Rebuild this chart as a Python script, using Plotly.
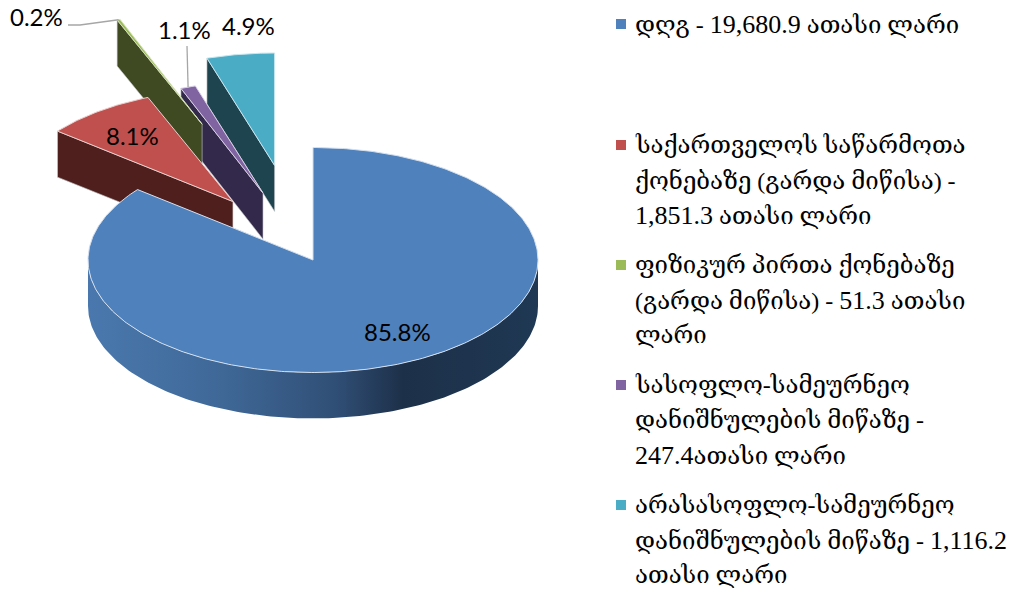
import re
import numpy as np
import plotly.graph_objects as go

# --- data ---
values = [19680.9, 1851.3, 51.3, 247.4, 1116.2]
legend_lines = [
    ["დღგ - 19,680.9 ათასი ლარი"],
    ["საქართველოს საწარმოთა", "ქონებაზე (გარდა მიწისა) -", "1,851.3 ათასი ლარი"],
    ["ფიზიკურ პირთა ქონებაზე", "(გარდა მიწისა) - 51.3 ათასი", "ლარი"],
    ["სასოფლო-სამეურნეო", "დანიშნულების მიწაზე -", "247.4ათასი ლარი"],
    ["არასასოფლო-სამეურნეო", "დანიშნულების მიწაზე - 1,116.2", "ათასი ლარი"],
]

# --- style ---
top_colors = ["#4f81bd", "#c0504d", "#9bbb59", "#8064a2", "#4bacc6"]
wall_colors = [None, "#4f1f1d", "#3f4a22", "#33294a", "#1e4450"]
edge_colors = ["#d5e0ee", "#e8d0cf", "#d5e2b8", "#d8cfe4", "#c8e6ee"]
explode_x = [0, 0.595, 1.327, 0.667, 1.12]
explode_y = [0, 0.648, 1.30, 0.63, 0.85]
draw_order = [4, 3, 2, 1]
CX, CY, RX, RY, DEPTH = 313, 260, 225, 112.5, 46
W, H = 1024, 593
LABEL_FONT = "Lato, Open Sans, sans-serif"
LEGEND_FONT = "Liberation Serif, DejaVu Serif, serif"
LEGEND_SIZE = 24
DIGIT_SIZE = 26
label_pos = [(397, 331), (132, 135), (36, 16), (184, 29), (248, 25)]
legend_y = [[24], [145, 181, 215], [265, 300, 335], [385, 420, 455], [505, 540, 575]]

total = sum(values)
fractions = [v / total for v in values]
edges = np.cumsum([0] + fractions) * 2 * np.pi


def ell(theta, ox=0.0, oy=0.0):
    return CX + ox + RX * np.sin(theta), CY + oy - RY * np.cos(theta)


fig = go.Figure()


def poly(xs, ys, fill, line="rgba(0,0,0,0)", width=0, **kw):
    fig.add_trace(go.Scatter(x=list(xs), y=list(ys), mode="lines", fill="toself",
                             fillcolor=fill, line=dict(color=line, width=width),
                             hoverinfo="skip", showlegend=False, **kw))


# exploded slices, back to front
for i in draw_order:
    a0, a1 = edges[i], edges[i + 1]
    mid = (a0 + a1) / 2
    ox = np.sin(mid) * RX * explode_x[i]
    oy = -np.cos(mid) * RY * explode_y[i]
    ax, ay = CX + ox, CY + oy
    sx, sy = ell(a0, ox, oy)
    poly([sx, ax, ax, sx, sx], [sy, ay, ay + DEPTH, sy + DEPTH, sy], wall_colors[i], "#c9ccd0", 0.6)
    t = np.linspace(a0, a1, 40)
    px, py = ell(t, ox, oy)
    poly(np.r_[ax, px, ax], np.r_[ay, py, ay], top_colors[i], edge_colors[i], 1)

# main slice: rim with gradient, then top
t = np.linspace(np.pi / 2, 3 * np.pi / 2, 160)
rx, ry = ell(t)
fig.add_trace(go.Scatter(
    x=np.r_[rx, rx[::-1], rx[0]], y=np.r_[ry, ry[::-1] + DEPTH, ry[0]],
    mode="lines", line=dict(width=0, color="rgba(0,0,0,0)"), fill="toself",
    fillgradient=dict(type="horizontal", colorscale=[
        [0, "#4a78ae"], [0.3, "#3f6897"], [0.55, "#304f76"], [0.7, "#1d3049"], [1, "#1f3853"]]),
    hoverinfo="skip", showlegend=False))
t = np.linspace(edges[0], edges[1], 400)
px, py = ell(t)
poly(np.r_[CX, px, CX], np.r_[CY, py, CY], top_colors[0], edge_colors[0], 1)

# leader lines for the two thin slices
for i, (lx, ly) in ((2, ((68, 80, None), (25, 25, None))), (3, ((187, None), (46, None)))):
    mid = (edges[i] + edges[i + 1]) / 2
    ox = np.sin(mid) * RX * explode_x[i]
    oy = -np.cos(mid) * RY * explode_y[i]
    ex, ey = ell(mid, ox, oy)
    xs = list(lx[:-1]) + [ex]
    ys = list(ly[:-1]) + [ey]
    fig.add_trace(go.Scatter(x=xs, y=ys, mode="lines", line=dict(color="#a6a6a6", width=1.3),
                             hoverinfo="skip", showlegend=False))

# legend swatches
fig.add_trace(go.Scatter(
    x=[621] * 5, y=[yy[0] for yy in legend_y], mode="markers",
    marker=dict(symbol="square", size=10, color=top_colors, line=dict(width=0)),
    hoverinfo="skip", showlegend=False))


def legend_markup(line):
    return re.sub(r"[0-9][0-9,.]*",
                  lambda m: f'<span style="font-size:{DIGIT_SIZE}px">{m.group(0)}</span>', line)


annotations = []
for f, (x, y) in zip(fractions, label_pos):
    annotations.append(dict(x=x, y=y, text=f"{f * 100:.1f}%", showarrow=False, xanchor="center",
                            yanchor="middle", font=dict(family=LABEL_FONT, size=24, color="#000")))
for lines, ys in zip(legend_lines, legend_y):
    for line, y in zip(lines, ys):
        annotations.append(dict(x=633, y=y, text=legend_markup(line), showarrow=False, xanchor="left",
                                yanchor="middle", font=dict(family=LEGEND_FONT, size=LEGEND_SIZE, color="#000")))

fig.update_layout(
    width=W, height=H, margin=dict(l=0, r=0, t=0, b=0), paper_bgcolor="white", plot_bgcolor="white",
    xaxis=dict(range=[0, W], visible=False, fixedrange=True),
    yaxis=dict(range=[H, 0], visible=False, fixedrange=True),
    annotations=annotations, showlegend=False,
)
fig.write_html("out.html", config=dict(displayModeBar=False),
               post_script="document.body.style.margin='0';document.documentElement.style.overflow='hidden';")
